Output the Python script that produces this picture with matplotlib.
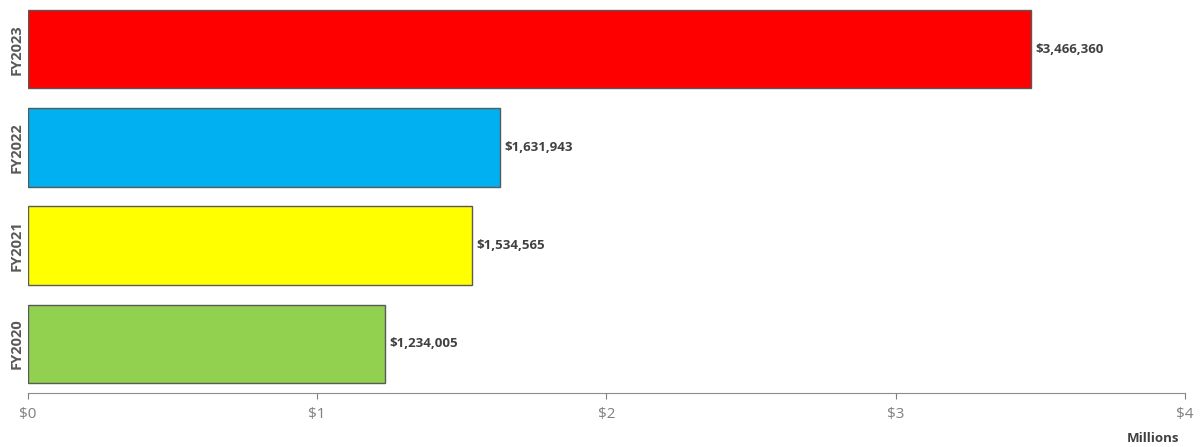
import matplotlib.pyplot as plt

years = ['FY2020', 'FY2021', 'FY2022', 'FY2023']
amounts = [1234005, 1534565, 1631943, 3466360]
colors = ['#92d050', '#ffff00', '#00b0f0', '#ff0000']
ticks = [0, 1, 2, 3, 4]
tick_labels = ['$0', '$1', '$2', '$3', '$4']

plt.rcParams['font.family'] = ['Open Sans', 'DejaVu Sans']

fig = plt.figure(figsize=(12, 4.47), dpi=100)
ax = fig.add_axes([0.0233, 0.1208, 0.9642, 0.8792])

vals = [a / 1e6 for a in amounts]
bars = ax.barh(range(len(years)), vals, height=0.8, color=colors,
               edgecolor='#595959', linewidth=1.0)

for i, v in enumerate(vals):
    ax.text(v + 0.015, i, '${:,}'.format(amounts[i]), va='center', ha='left',
            fontsize=9.5, fontweight='bold', color='#404040')

ax.set_xlim(0, 4)
ax.set_ylim(-0.5, 3.5)
ax.set_xticks(ticks)
ax.set_xticklabels(tick_labels, color='#7f7f7f', fontsize=11)
ax.tick_params(axis='x', direction='out', length=4, color='#7f7f7f', pad=6)
ax.set_yticks(range(len(years)))
ax.set_yticklabels(years, rotation=90, va='center', color='#595959',
                   fontsize=10.5, fontweight='bold')
ax.tick_params(axis='y', length=0, pad=3)

for s in ['top', 'right', 'left']:
    ax.spines[s].set_visible(False)
ax.spines['bottom'].set_color('#8c8c8c')

fig.text(0.983, 0.005, 'Millions', ha='right', va='bottom', fontsize=9.5,
         fontweight='bold', color='#404040')

fig.savefig('out.png', dpi=100)
